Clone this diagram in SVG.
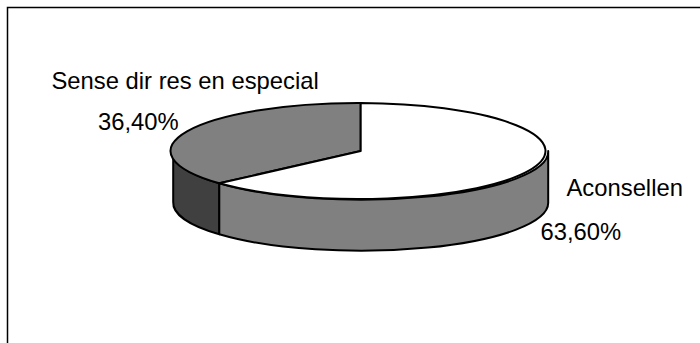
<svg xmlns="http://www.w3.org/2000/svg" width="700" height="343" viewBox="0 0 700 343">
<style>
.o{stroke:#000;stroke-width:2;stroke-linejoin:round}
.t{font-family:"Liberation Sans",Arial,sans-serif;font-size:23.8px;fill:#000}
</style>
<rect width="700" height="343" fill="#fff"/>
<path d="M7.5,343 V7.5 H700" fill="none" stroke="#000" stroke-width="1.5"/>
<g id="pie">
<g id="side-dark">
<path class="o" fill="#404040" d="M173.2,151 A187.5,48 0 0 0 219.3,183.3 V234.3 A187.5,48 0 0 1 173.2,202 Z"/>
</g>
<g id="side-front">
<path class="o" fill="#808080" d="M219.3,183.3 A187.5,48 0 0 0 548.2,151 V202 A187.5,48 0 0 1 219.3,234.3 Z"/>
</g>
<g id="slice-sense">
<path class="o" fill="#808080" d="M360.7,151 V103 A187.5,48 0 0 0 219.3,183.3 Z"/>
</g>
<g id="slice-aconsellen">
<path class="o" fill="#fff" d="M360.7,151 L219.3,183.3 A187.5,48 0 1 0 360.7,103 Z"/>
</g>
</g>
<g id="labels">
<text class="t" x="51.5" y="88.5">Sense dir res en especial</text>
<text class="t" x="98" y="130">36,40%</text>
<text class="t" x="566.5" y="195.5">Aconsellen</text>
<text class="t" x="540.5" y="240">63,60%</text>
</g>
</svg>
